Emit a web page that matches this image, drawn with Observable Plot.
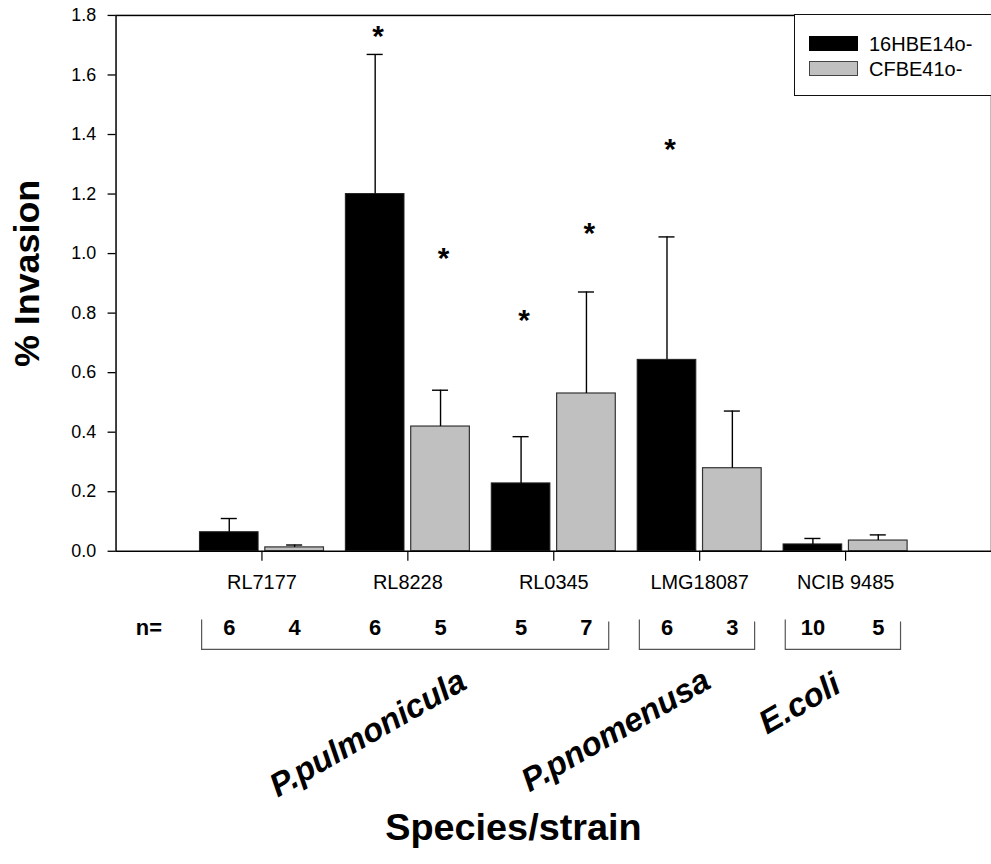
<!DOCTYPE html>
<html><head><meta charset="utf-8">
<script src="https://cdn.jsdelivr.net/npm/d3@7"></script>
<script src="https://cdn.jsdelivr.net/npm/@observablehq/plot@0.6"></script>
<style>
html,body{margin:0;padding:0;background:#fff;overflow:hidden;}
#wrap{position:relative;width:991px;height:864px;overflow:hidden;font-family:"Liberation Sans",Arial,sans-serif;}
#wrap svg{position:absolute;left:0;top:0;}
#legend{position:absolute;left:794px;top:14px;width:220px;height:82px;border:1px solid #111;box-sizing:border-box;background:#fff;}
.sw{position:absolute;left:14px;width:49px;height:15px;box-sizing:border-box;}
.lt{position:absolute;left:74px;font-size:20px;line-height:20px;color:#000;}
</style></head><body><div id="wrap"></div>
<script>
// ---- data ----
const categories = ["RL7177", "RL8228", "RL0345", "LMG18087", "NCIB 9485"];
const seriesNames = ["16HBE14o-", "CFBE41o-"];
const hbeValues = [0.064, 1.20, 0.228, 0.643, 0.023];
const hbeUpper  = [0.110, 1.669, 0.385, 1.056, 0.043];
const cfbeValues = [0.013, 0.419, 0.530, 0.279, 0.036];
const cfbeUpper  = [0.021, 0.541, 0.871, 0.471, 0.055];
const hbeN  = [6, 6, 5, 6, 10];
const cfbeN = [4, 5, 7, 3, 5];
const starCats   = ["RL8228", "RL8228", "RL0345", "RL0345", "LMG18087"];
const starSeries = ["16HBE14o-", "CFBE41o-", "16HBE14o-", "CFBE41o-", "16HBE14o-"];
const starY      = [1.744, 0.997, 0.791, 1.081, 1.363];
const speciesNames = ["P.pulmonicula", "P.pnomenusa", "E.coli"];
const speciesFirst = ["RL7177", "LMG18087", "NCIB 9485"];
const speciesLast  = ["RL0345", "LMG18087", "NCIB 9485"];
const yTicks = [0.0, 0.2, 0.4, 0.6, 0.8, 1.0, 1.2, 1.4, 1.6, 1.8];

// ---- table ----
const pos = c => categories.indexOf(c) + 1;
const rows = [];
categories.forEach((c, i) => {
  rows.push({cat: c, series: seriesNames[0], value: hbeValues[i], upper: hbeUpper[i], n: hbeN[i]});
  rows.push({cat: c, series: seriesNames[1], value: cfbeValues[i], upper: cfbeUpper[i], n: cfbeN[i]});
});
const off = {"16HBE14o-": [-0.425, -0.023], "CFBE41o-": [0.023, 0.425]};
const bx1 = d => pos(d.cat) + off[d.series][0];
const bx2 = d => pos(d.cat) + off[d.series][1];
const bxc = d => (bx1(d) + bx2(d)) / 2;
const capHalf = 0.055;
const stars = starCats.map((c, i) => ({cat: c, series: starSeries[i], y: starY[i]}));
const species = speciesNames.map((s, i) => ({name: s, first: pos(speciesFirst[i]), last: pos(speciesLast[i])}));
const speciesLayout = [{dx: -38, dy: 183}, {dx: -82, dy: 180}, {dx: -44, dy: 153}];

const font = "Liberation Sans, Arial, sans-serif";
const hbeRows = rows.filter(d => d.series === seriesNames[0]);
const cfbeRows = rows.filter(d => d.series === seriesNames[1]);

const bracketMark = (index, scales, values, dims) => {
  const g = d3.create("svg:g").attr("fill", "none").attr("stroke", "#555").attr("stroke-width", 1.2);
  const yB = dims.height - dims.marginBottom;
  for (const s of species) {
    const xa = scales.x(s.first - 0.41), xb = scales.x(s.last + 0.38);
    g.append("path").attr("d", `M${xa},${yB + 69}V${yB + 99}H${xb}V${yB + 71}`);
  }
  return g.node();
};

const speciesMarks = species.map((s, i) =>
  Plot.text([s], {
    x: d => (d.first - 0.41 + d.last + 0.38) / 2,
    text: d => d.name,
    frameAnchor: "bottom",
    dx: speciesLayout[i].dx, dy: speciesLayout[i].dy,
    rotate: -30, fontSize: 33, fontWeight: "bold", fontStyle: "italic",
    textAnchor: "middle", lineAnchor: "middle", fill: "#000"
  })
);

const plot = Plot.plot({
  width: 995, height: 864,
  marginLeft: 116, marginRight: 0, marginTop: 15, marginBottom: 311,
  style: {fontFamily: font, background: "white", overflow: "visible", color: "#000"},
  x: {type: "linear", domain: [0, 6], axis: null},
  y: {domain: [0, 1.8], axis: null},
  marks: [
    Plot.rectY(hbeRows, {x1: bx1, x2: bx2, y1: 0, y2: "value", fill: "#000", stroke: "#222", strokeWidth: 1}),
    Plot.rectY(cfbeRows, {x1: bx1, x2: bx2, y1: 0, y2: "value", fill: "#c0c0c0", stroke: "#333", strokeWidth: 1.2}),
    Plot.ruleX(rows, {x: bxc, y1: "value", y2: "upper", stroke: "#000", strokeWidth: 1.4}),
    Plot.ruleY(rows, {y: "upper", x1: d => bxc(d) - capHalf, x2: d => bxc(d) + capHalf, stroke: "#000", strokeWidth: 1.4}),
    Plot.frame({stroke: "#000", strokeWidth: 1.5}),
    Plot.axisY({ticks: yTicks, tickFormat: d3.format(".1f"), tickSize: 8, tickPadding: 12, fontSize: 18, anchor: "left", label: null, strokeWidth: 1.3}),
    Plot.axisX({ticks: [1, 2, 3, 4, 5], tickFormat: d => categories[Math.round(d) - 1], tickSize: 10, tickPadding: 14, fontSize: 20, anchor: "bottom", label: null, strokeWidth: 1.2}),
    Plot.text(stars, {x: d => bxc(d), y: "y", text: () => "*", fontSize: 30, fontWeight: "bold", lineAnchor: "bottom", dy: 14, dx: 3, fill: "#000"}),
    Plot.text(rows, {x: bxc, text: d => String(d.n), frameAnchor: "bottom", dy: 84, lineAnchor: "bottom", fontSize: 22, fontWeight: "bold", fill: "#000"}),
    Plot.text(["n="], {text: d => d, frameAnchor: "bottom-left", dx: 33, dy: 84, lineAnchor: "bottom", textAnchor: "middle", fontSize: 22, fontWeight: "bold", fill: "#000"}),
    bracketMark,
    ...speciesMarks,
    Plot.text(["Species/strain"], {text: d => d, frameAnchor: "bottom-left", dx: 399, dy: 290, lineAnchor: "bottom", textAnchor: "middle", fontSize: 38, fontWeight: "bold", fill: "#000"}),
    Plot.text(["% Invasion"], {text: d => d, frameAnchor: "left", dx: -89, dy: -10, rotate: -90, textAnchor: "middle", lineAnchor: "middle", fontSize: 36, fontWeight: "bold", fill: "#000"})
  ]
});
const wrap = document.getElementById("wrap");
wrap.appendChild(plot);

// legend
const legend = document.createElement("div");
legend.id = "legend";
const items = [{name: seriesNames[0], fill: "#000", stroke: "#000", top: 21}, {name: seriesNames[1], fill: "#c0c0c0", stroke: "#444", top: 46}];
for (const it of items) {
  const sw = document.createElement("div");
  sw.className = "sw";
  sw.style.top = it.top + "px";
  sw.style.background = it.fill;
  sw.style.border = "1px solid " + it.stroke;
  legend.appendChild(sw);
  const t = document.createElement("div");
  t.className = "lt";
  t.style.top = (it.top - 2) + "px";
  t.textContent = it.name;
  legend.appendChild(t);
}
wrap.appendChild(legend);
</script>
</body></html>
